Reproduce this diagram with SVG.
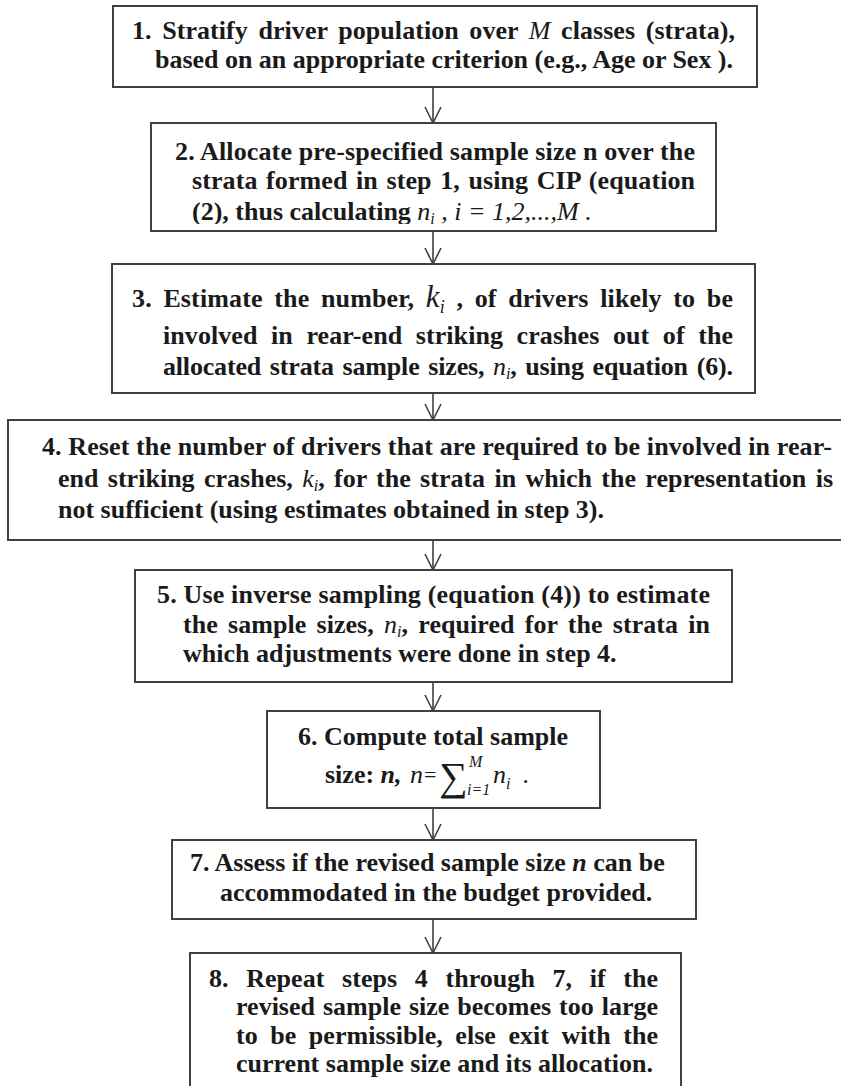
<svg xmlns="http://www.w3.org/2000/svg" width="841" height="1086" viewBox="0 0 841 1086">
<style>
.box{fill:#ffffff;stroke:#404040;stroke-width:2}
.t{font-family:"Liberation Serif","Times New Roman",serif;font-size:26px;font-weight:bold;fill:#1a1a1a}
.m{font-style:italic;font-weight:normal}
.bi{font-style:italic;font-weight:bold}
.s{font-size:16px}
.c{stroke:#404040;stroke-width:1.6;fill:none}
</style>
<defs>
<marker id="arr" viewBox="0 0 20 20" refX="18" refY="10" markerWidth="20" markerHeight="20" markerUnits="userSpaceOnUse" orient="auto">
<path d="M2,2 L18,10 L2,18" fill="none" stroke="#404040" stroke-width="1.6"/>
</marker>
<clipPath id="clip2"><rect x="150" y="190" width="570" height="34"/></clipPath>
</defs>
<rect width="841" height="1086" fill="#ffffff"/>

<g id="connectors">
<line class="c" x1="433" y1="87" x2="433" y2="123" marker-end="url(#arr)"/>
<line class="c" x1="433" y1="231" x2="433" y2="264" marker-end="url(#arr)"/>
<line class="c" x1="433" y1="393" x2="433" y2="420" marker-end="url(#arr)"/>
<line class="c" x1="433" y1="540" x2="433" y2="570" marker-end="url(#arr)"/>
<line class="c" x1="433" y1="682" x2="433" y2="711" marker-end="url(#arr)"/>
<line class="c" x1="433" y1="808" x2="433" y2="840" marker-end="url(#arr)"/>
<line class="c" x1="433" y1="919" x2="433" y2="953" marker-end="url(#arr)"/>
</g>

<g id="step1">
<rect class="box" x="113" y="6" width="644" height="81"/>
<text class="t" x="132" y="39" textLength="603" lengthAdjust="spacing" style="word-spacing:4px">1. Stratify driver population over <tspan class="m">M</tspan> classes (strata),</text>
<text class="t" x="155" y="68" textLength="578" lengthAdjust="spacing">based on an appropriate criterion (e.g., Age or Sex ).</text>
</g>

<g id="step2">
<rect class="box" x="151" y="123" width="565" height="108"/>
<text class="t" x="175" y="160" textLength="520" lengthAdjust="spacing">2. Allocate pre-specified sample size n over the</text>
<text class="t" x="192" y="189" textLength="503" lengthAdjust="spacing" style="word-spacing:2px">strata formed in step 1, using CIP (equation</text>
<text class="t" x="192" y="220" clip-path="url(#clip2)">(2), thus calculating <tspan class="m">n</tspan><tspan class="m s" dy="4">i</tspan><tspan class="m" dy="-4"> , i = 1,2,...,M  .</tspan></text>
</g>

<g id="step3">
<rect class="box" x="112" y="264" width="643" height="129"/>
<text class="t" x="132" y="307" textLength="601" lengthAdjust="spacing" style="word-spacing:5px">3. Estimate the number, <tspan class="m" style="font-size:31px">k</tspan><tspan class="m" style="font-size:18px" dy="6">i</tspan><tspan dy="-6"> , of drivers likely to be</tspan></text>
<text class="t" x="163" y="344" textLength="570" lengthAdjust="spacing" style="word-spacing:7px">involved in rear-end striking crashes out of the</text>
<text class="t" x="163" y="375" textLength="570" lengthAdjust="spacing" style="word-spacing:2.5px">allocated strata sample sizes, <tspan class="m">n</tspan><tspan class="m s" dy="4">i</tspan><tspan dy="-4">, using equation (6).</tspan></text>
</g>

<g id="step4">
<rect class="box" x="8" y="420" width="860" height="120"/>
<text class="t" x="42" y="455" textLength="790" lengthAdjust="spacing">4. Reset the number of drivers that are required to be involved in rear-</text>
<text class="t" x="58" y="487" textLength="775" lengthAdjust="spacing" style="word-spacing:2.8px">end striking crashes, <tspan class="m">k</tspan><tspan class="m s" dy="4">i</tspan><tspan dy="-4">, for the strata in which the representation is</tspan></text>
<text class="t" x="58" y="518">not sufficient (using estimates obtained in step 3).</text>
</g>

<g id="step5">
<rect class="box" x="135" y="570" width="597" height="112"/>
<text class="t" x="157" y="603" textLength="553" lengthAdjust="spacing">5. Use inverse sampling (equation (4)) to estimate</text>
<text class="t" x="183" y="633" textLength="527" lengthAdjust="spacing" style="word-spacing:3.7px">the sample sizes, <tspan class="m">n</tspan><tspan class="m s" dy="4">i</tspan><tspan dy="-4">, required for the strata in</tspan></text>
<text class="t" x="183" y="662">which adjustments were done in step 4.</text>
</g>

<g id="step6">
<rect class="box" x="267" y="711" width="333" height="97"/>
<text class="t" x="298" y="745">6. Compute total sample</text>
<text class="t" x="325" y="783">size: <tspan class="bi">n,</tspan></text>
<text class="t m" x="410" y="783">n</text>
<text class="t m" x="424" y="782" style="font-size:22px;font-style:normal">=</text>
<text class="t m" x="439" y="790" style="font-size:40px;font-style:normal">∑</text>
<text class="t m s" x="469" y="767">M</text>
<text class="t m s" x="467" y="795">i=1</text>
<text class="t m" x="493" y="783">n</text>
<text class="t m s" x="506" y="789">i</text>
<text class="t m" x="523" y="783">.</text>
</g>

<g id="step7">
<rect class="box" x="172" y="840" width="524" height="79"/>
<text class="t" x="190" y="871">7. Assess if the revised sample size <tspan class="bi">n</tspan> can be</text>
<text class="t" x="220" y="901">accommodated in the budget provided.</text>
</g>

<g id="step8">
<rect class="box" x="190" y="953" width="491" height="135"/>
<text class="t" x="209" y="987" textLength="449" lengthAdjust="spacing" style="word-spacing:11px">8. Repeat steps 4 through 7, if the</text>
<text class="t" x="236" y="1015" textLength="422" lengthAdjust="spacing" style="word-spacing:1.4px">revised sample size becomes too large</text>
<text class="t" x="236" y="1044" textLength="422" lengthAdjust="spacing" style="word-spacing:6px">to be permissible, else exit with the</text>
<text class="t" x="236" y="1072">current sample size and its allocation.</text>
</g>
</svg>
